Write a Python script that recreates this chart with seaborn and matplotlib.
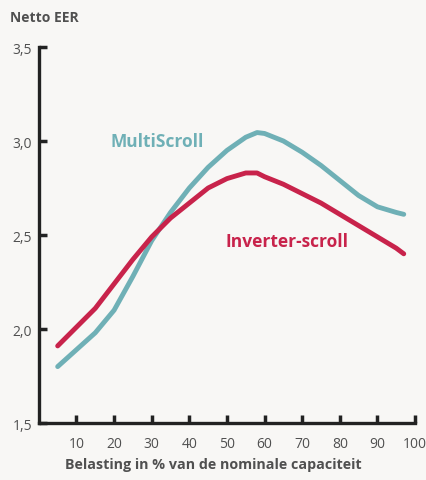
import numpy as np
import pandas as pd
import matplotlib
matplotlib.use("Agg")
import matplotlib.pyplot as plt
import seaborn as sns

sns.set_style("white")
plt.rcParams['font.family'] = ['Open Sans', 'DejaVu Sans']

# data
load = [5, 10, 15, 20, 25, 30, 35, 40, 45, 50, 55, 58, 60, 65, 70, 75, 80, 85, 90, 95, 97]
multiscroll = [1.80, 1.89, 1.98, 2.10, 2.28, 2.47, 2.62, 2.75, 2.86, 2.95, 3.02, 3.045, 3.04,
               3.00, 2.94, 2.87, 2.79, 2.71, 2.65, 2.62, 2.61]
inverter = [1.91, 2.01, 2.11, 2.24, 2.37, 2.49, 2.59, 2.67, 2.75, 2.80, 2.83, 2.83, 2.81,
            2.77, 2.72, 2.67, 2.61, 2.55, 2.49, 2.43, 2.40]

x_ticks = [10, 20, 30, 40, 50, 60, 70, 80, 90, 100]
y_ticks = [1.5, 2.0, 2.5, 3.0, 3.5]
y_labels = ["1,5", "2,0", "2,5", "3,0", "3,5"]

teal = "#6fb0b6"
red = "#c8234b"
grey = "#505050"
dark = "#222222"

df = pd.DataFrame({"load": load, "MultiScroll": multiscroll, "Inverter-scroll": inverter})

fig = plt.figure(figsize=(4.27, 4.81), dpi=100)
fig.patch.set_facecolor("#f8f7f5")
ax = fig.add_axes([0.091, 0.1185, 0.881, 0.7817])
ax.set_facecolor("#f8f7f5")

sns.lineplot(data=df, x="load", y="MultiScroll", color=teal, linewidth=3.5, ax=ax,
             solid_capstyle="round")
sns.lineplot(data=df, x="load", y="Inverter-scroll", color=red, linewidth=3.5, ax=ax,
             solid_capstyle="round")

ax.set_xlim(0, 100)
ax.set_ylim(1.5, 3.5)
ax.set_xticks(x_ticks)
ax.set_yticks(y_ticks)
ax.set_yticklabels(y_labels)
ax.tick_params(length=0, labelcolor=grey, labelsize=10)
ax.tick_params(axis="x", pad=9)
ax.tick_params(axis="y", pad=5)

# inward tick marks (data coords on x, short fixed length on y)
for xt in x_ticks:
    ax.plot([xt, xt], [1.5, 1.545], color=dark, linewidth=2.5, clip_on=False,
            solid_capstyle="butt", zorder=6)
for yt in y_ticks:
    ax.plot([0, 2.1], [yt, yt], color=dark, linewidth=2.5, clip_on=False,
            solid_capstyle="butt", zorder=6)

for s in ["top", "right"]:
    ax.spines[s].set_visible(False)
for s in ["left", "bottom"]:
    ax.spines[s].set_linewidth(2.4)
    ax.spines[s].set_color(dark)

ax.set_xlabel("")
ax.set_ylabel("")

ax.text(19, 3.0, "MultiScroll", color=teal, fontsize=12.5, fontweight="bold",
        ha="left", va="center")
ax.text(49.5, 2.47, "Inverter-scroll", color=red, fontsize=12.5, fontweight="bold",
        ha="left", va="center")

fig.text(0.023, 0.962, "Netto EER", color=grey, fontsize=10, fontweight="bold",
         ha="left", va="center")
fig.text(0.5, 0.033, "Belasting in % van de nominale capaciteit", color=grey,
         fontsize=10.3, fontweight="bold", ha="center", va="center")

fig.savefig("out.png", dpi=100, facecolor=fig.get_facecolor())
